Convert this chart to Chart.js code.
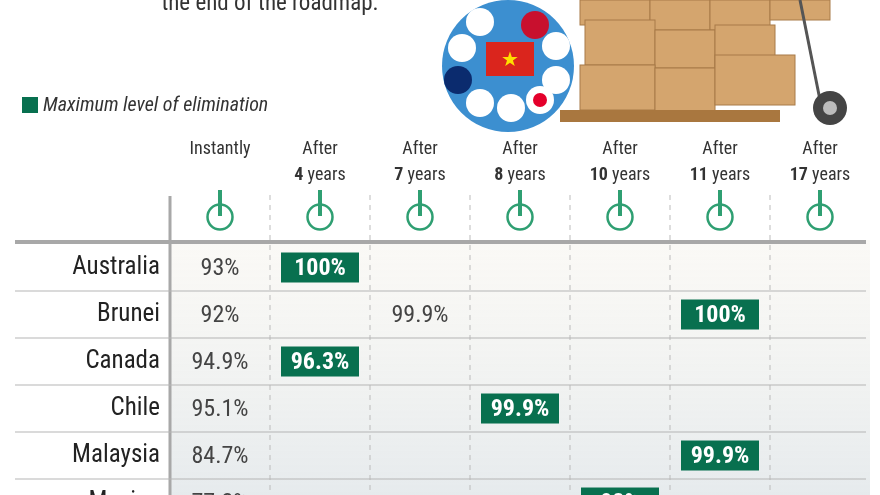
<!DOCTYPE html>
<html><head><meta charset="utf-8">
<script src="https://cdn.jsdelivr.net/npm/chart.js@4/dist/chart.umd.min.js"></script>
<style>html,body{margin:0;padding:0;background:#fff}#w{width:880px;height:495px;position:relative}</style>
</head><body><div id="w"><canvas id="c"></canvas></div>
<script>
const countries = ["Australia","Brunei","Canada","Chile","Malaysia","Mexico"];
const stages = [["Instantly",""],["After","4"],["After","7"],["After","8"],["After","10"],["After","11"],["After","17"]];
const instantly = [93, 92, 94.9, 95.1, 84.7, 77.2];
const intermediate = [{row:1, stage:2, v:99.9}];
const maximum = [{row:0,stage:1,v:100},{row:1,stage:5,v:100},{row:2,stage:1,v:96.3},{row:3,stage:3,v:99.9},{row:4,stage:5,v:99.9},{row:5,stage:4,v:98}];
const GREEN = "#08704f", ICON = "#2f9f72";
const FONT = "'Liberation Sans Narrow','Roboto Condensed',Roboto,sans-serif";
const fmt = v => (Number.isInteger(v) ? v : v.toFixed(1)) + "%";

const deco = {
  id:'deco',
  beforeDraw(ch){
    const c = ch.ctx, xs = ch.scales.x, ys = ch.scales.y;
    c.save();
    const g = c.createLinearGradient(0,240,0,495);
    g.addColorStop(0,'rgba(240,236,225,0.3)'); g.addColorStop(1,'rgba(200,210,215,0.45)');
    c.fillStyle = g; c.fillRect(170,240,700,255);
    c.fillStyle = '#333'; c.font = "23px "+FONT; c.textAlign='center'; c.textBaseline='middle';
    c.fillText("the end of the roadmap.", 270, 4);
    c.fillStyle = '#3c8fd0'; c.beginPath(); c.arc(508,66,66,0,Math.PI*2); c.fill();
    c.fillStyle = '#da251d'; c.fillRect(486,42,48,34);
    c.fillStyle = '#ffde00'; c.font = "20px sans-serif"; c.fillText("★",510,60);
    const flags=[[480,22,'#fff'],[535,25,'#c8102e'],[462,48,'#fff'],[556,46,'#fff'],[458,80,'#0b2b6e'],[556,80,'#fff'],[480,103,'#fff'],[511,108,'#fff'],[540,100,'#fff']];
    flags.forEach(f=>{c.fillStyle=f[2];c.beginPath();c.arc(f[0],f[1],14,0,Math.PI*2);c.fill();});
    c.fillStyle='#e4002b';c.beginPath();c.arc(540,100,7,0,Math.PI*2);c.fill();
    c.fillStyle='#d4a56e'; c.strokeStyle='#a87b48'; c.lineWidth=1;
    [[580,0,70,25],[650,0,60,30],[710,0,60,30],[770,0,60,20],[585,20,70,45],[655,30,60,38],[715,25,60,45],[580,65,75,45],[655,68,60,45],[715,55,80,50]].forEach(b=>{c.fillRect(...b);c.strokeRect(...b);});
    c.fillStyle='#a9773f'; c.fillRect(560,110,220,12);
    c.strokeStyle='#555'; c.lineWidth=3; c.beginPath(); c.moveTo(800,0); c.lineTo(820,100); c.stroke();
    c.fillStyle='#444'; c.beginPath(); c.arc(830,108,17,0,Math.PI*2); c.fill(); c.fillStyle='#bbb'; c.beginPath(); c.arc(830,108,7,0,Math.PI*2); c.fill();
    c.fillStyle=GREEN; c.fillRect(22,97,16,16);
    c.fillStyle='#333'; c.font="italic 20px "+FONT; c.textAlign='left'; c.fillText("Maximum level of elimination",43,106);
    stages.forEach((s,i)=>{
      const x = xs.getPixelForValue(i);
      c.fillStyle='#333'; c.textAlign='center';
      c.font="18px "+FONT; c.fillText(s[0],x,149);
      if(s[1]){
        c.font="bold 18px "+FONT; const w1=c.measureText(s[1]).width;
        c.font="18px "+FONT; const w2=c.measureText(" years").width;
        const x0=x-(w1+w2)/2; c.textAlign='left';
        c.font="bold 18px "+FONT; c.fillText(s[1],x0,175);
        c.font="18px "+FONT; c.fillText(" years",x0+w1,175);
      }
      c.strokeStyle=ICON; c.lineWidth=2.5; c.beginPath(); c.arc(x,217,12.5,0,Math.PI*2); c.stroke();
      c.lineWidth=4; c.beginPath(); c.moveTo(x,190); c.lineTo(x,216); c.stroke();
    });
    c.strokeStyle='#bbb'; c.lineWidth=1; c.setLineDash([5,5]);
    for(let i=0;i<6;i++){const x=xs.getPixelForValue(i+0.5); c.beginPath(); c.moveTo(x,195); c.lineTo(x,495); c.stroke();}
    c.setLineDash([]);
    c.strokeStyle='#a8a8a8'; c.lineWidth=3; c.beginPath(); c.moveTo(170,196); c.lineTo(170,495); c.stroke();
    c.strokeStyle='#a8a8a8'; c.lineWidth=4; c.beginPath(); c.moveTo(15,242); c.lineTo(866,242); c.stroke();
    c.lineWidth=1.2; c.strokeStyle='#b5b5b5';
    for(let r=0;r<countries.length-1;r++){const y=ys.getPixelForValue(r+0.5); c.beginPath(); c.moveTo(15,y); c.lineTo(866,y); c.stroke();}
    c.fillStyle='#222'; c.font="25px "+FONT; c.textAlign='right';
    countries.forEach((n,r)=>c.fillText(n,160,ys.getPixelForValue(r)));
    c.restore();
  },
  afterDatasetsDraw(ch){
    const c = ch.ctx; c.save(); c.textBaseline='middle'; c.textAlign='center';
    ch.data.datasets.forEach((ds,di)=>{
      ch.getDatasetMeta(di).data.forEach((el,i)=>{
        const v = ds.data[i].v, t = fmt(v);
        if(ds.label==='Maximum'){
          c.fillStyle=GREEN; c.fillRect(el.x-39,el.y-15,78,30);
          c.fillStyle='#fff'; c.font="bold 24px "+FONT; c.fillText(t,el.x,el.y+1);
        } else {
          c.fillStyle='#444'; c.font="24px "+FONT; c.fillText(t,el.x,el.y+1);
        }
      });
    });
    c.restore();
  }
};

new Chart(document.getElementById('c'),{
  type:'scatter',
  data:{datasets:[
    {label:'Instantly', data:instantly.map((v,r)=>({x:0,y:r,v}))},
    {label:'Other', data:intermediate.map(d=>({x:d.stage,y:d.row,v:d.v}))},
    {label:'Maximum', data:maximum.map(d=>({x:d.stage,y:d.row,v:d.v}))}
  ]},
  options:{
    responsive:true, maintainAspectRatio:false, animation:false,
    layout:{padding:{left:170,right:10,top:244,bottom:0}},
    elements:{point:{radius:0,hoverRadius:0}},
    plugins:{legend:{display:false},tooltip:{enabled:false}},
    scales:{
      x:{type:'linear',min:-0.5,max:6.5,display:false},
      y:{type:'linear',reverse:true,min:-0.5,max:4.84,display:false}
    }
  },
  plugins:[deco]
});
</script></body></html>
